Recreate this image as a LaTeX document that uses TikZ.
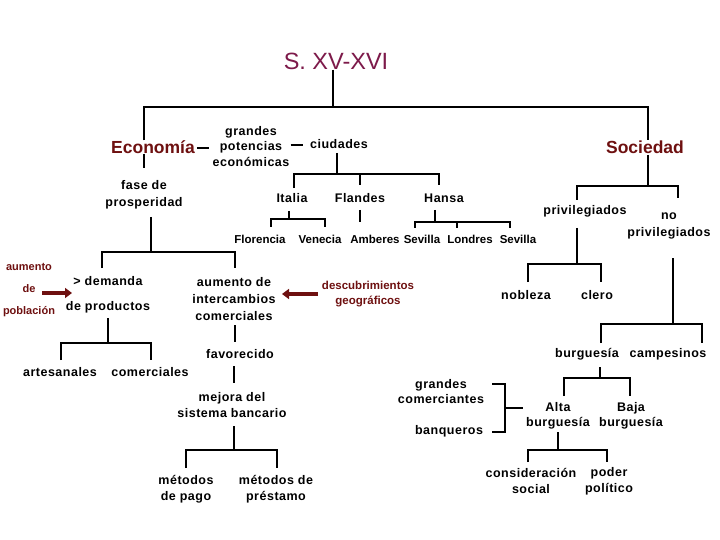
\documentclass[tikz,border=0pt]{standalone}
\usepackage{fontspec}
\setmainfont{Liberation Sans}
\newfontfamily\spfont{Liberation Sans}[LetterSpace=4]
\usetikzlibrary{arrows.meta}
\definecolor{titlecol}{RGB}{125,26,74}
\definecolor{darkred}{RGB}{110,16,16}
\begin{document}
\begin{tikzpicture}[x=1pt,y=-1pt,
  txt/.style={font=\spfont\fontsize{12.5}{16}\selectfont\bfseries, inner sep=0pt, align=center},
  city/.style={font=\fontsize{11.5}{14}\selectfont\bfseries, inner sep=0pt},
  head/.style={font=\fontsize{17.5}{20}\selectfont\bfseries, text=darkred, inner sep=0pt},
  rtxt/.style={font=\fontsize{11}{14}\selectfont\bfseries, text=darkred, inner sep=0pt, align=center},
  ln/.style={line width=1.05pt, black},
  bigarrow/.style={line width=3.5pt, darkred, -{Triangle[length=7pt,width=10pt]}}]
\useasboundingbox[fill=white] (0,0) rectangle (720,540);

% texts
\node[font=\fontsize{23.5}{26}\selectfont, text=titlecol, inner sep=0pt] (title) at (336,61) {S. XV-XVI};
\node[head] (eco) at (153,147) {Economía};
\node[head] (soc) at (645,147) {Sociedad};
\node[txt, font=\spfont\fontsize{12.5}{15.5}\selectfont\bfseries] (gpe) at (251,146.5) {grandes\\potencias\\económicas};
\node[txt] (ciu) at (339,144) {ciudades};
\node[txt, font=\spfont\fontsize{12.5}{17}\selectfont\bfseries] (fase) at (144,194.5) {fase de\\prosperidad};
\node[txt] (ita) at (292,198) {Italia};
\node[txt] (fla) at (360,198) {Flandes};
\node[txt] (han) at (444,198) {Hansa};
\node[city] (flo) at (260,239) {Florencia};
\node[city] (ven) at (320,239) {Venecia};
\node[city] (amb) at (375,239) {Amberes};
\node[city] (sev1) at (422,239) {Sevilla};
\node[city] (lon) at (470,239) {Londres};
\node[city] (sev2) at (518,239) {Sevilla};
\node[txt] (priv) at (585,211) {privilegiados};
\node[txt, font=\spfont\fontsize{12.5}{17}\selectfont\bfseries] (nopriv) at (669,225.5) {no\\privilegiados};
\node[txt, font=\spfont\fontsize{12.5}{25}\selectfont\bfseries] (dem) at (108,294.5) {> demanda\\de productos};
\node[txt, font=\spfont\fontsize{12.5}{17}\selectfont\bfseries] (aum) at (234,299) {aumento de\\intercambios\\comerciales};
\node[rtxt, font=\fontsize{11}{22}\selectfont\bfseries] (pob) at (29,290) {aumento\\de\\población};
\node[rtxt, font=\fontsize{11.5}{15}\selectfont\bfseries] (desc) at (368,294.5) {descubrimientos\\geográficos};
\node[txt] (nob) at (526,295) {nobleza};
\node[txt] (cle) at (597,295) {clero};
\node[txt] (bur) at (587,354) {burguesía};
\node[txt] (cam) at (668,354) {campesinos};
\node[txt] (art) at (60,372) {artesanales};
\node[txt] (com) at (150,372) {comerciales};
\node[txt] (fav) at (240,354) {favorecido};
\node[txt] (mej) at (232,405) {mejora del\\sistema bancario};
\node[txt] (mpag) at (186,489) {métodos\\de pago};
\node[txt] (mpre) at (276,489) {métodos de\\préstamo};
\node[txt, font=\spfont\fontsize{12.5}{15}\selectfont\bfseries] (gc) at (441,391.5) {grandes\\comerciantes};
\node[txt] (ban) at (449,431) {banqueros};
\node[txt, font=\spfont\fontsize{12.5}{15}\selectfont\bfseries] (alta) at (558,415.5) {Alta\\burguesía};
\node[txt, font=\spfont\fontsize{12.5}{15}\selectfont\bfseries] (baja) at (631,415.5) {Baja\\burguesía};
\node[txt] (cons) at (531,481) {consideración\\social};
\node[txt] (pod) at (609,481) {poder\\político};

% connectors
\draw[ln] (title.south -| 333,0) -- (333,107);
\draw[ln] (eco.north -| 144,0) -- (144,107) -- (648,107) -- (soc.north -| 648,0);
\draw[ln] (eco.south -| 144,0) -- (144,168);
\draw[ln] (eco.east) ++(2,1) -- ++(12,0);
\draw[ln] (gpe.east) ++(1,-1.5) -- ++(12,0);
\draw[ln] (ciu.south -| 337,0) ++(0,4) -- (337,174);
\draw[ln] (ita.north -| 294,0) ++(0,-5) -- (294,174) -- (439,174) -- ++(0,11);
\draw[ln] (360,174) -- (360,185);
\draw[ln] (289,211) -- (289,219);
\draw[ln] (271,227) -- (271,219) -- (325,219) -- (325,227);
\draw[ln] (360,210) -- (360,222);
\draw[ln] (435,210) -- (435,222);
\draw[ln] (415,228) -- (415,222) -- (510,222) -- (510,228);
\draw[ln] (457,222) -- (457,228);
\draw[ln] (648,155) -- (648,186);
\draw[ln] (577,200) -- (577,186) -- (678,186) -- (678,198);
\draw[ln] (577,228) -- (577,264);
\draw[ln] (528,282) -- (528,264) -- (601,264) -- (601,282);
\draw[ln] (673,258) -- (673,324);
\draw[ln] (601,343) -- (601,324) -- (702,324) -- (702,343);
\draw[ln] (600,367) -- (600,378);
\draw[ln] (564,396) -- (564,378) -- (630,378) -- (630,396);
\draw[ln] (492,384) -- (505,384) -- (505,432) -- (492,432);
\draw[ln] (505,408) -- (523,408);
\draw[ln] (558,432) -- (558,450);
\draw[ln] (528,462) -- (528,450) -- (607,450) -- (607,462);
\draw[ln] (151,217) -- (151,252);
\draw[ln] (102,268) -- (102,252) -- (235,252) -- (235,268);
\draw[ln] (108,318) -- (108,343);
\draw[ln] (61,360) -- (61,343) -- (151,343) -- (151,360);
\draw[ln] (235,325) -- (235,342);
\draw[ln] (234,366) -- (234,383);
\draw[ln] (234,426) -- (234,450);
\draw[ln] (186,468) -- (186,450) -- (277,450) -- (277,468);
\draw[bigarrow] (42,293) -- (72,293);
\draw[bigarrow] (318,294) -- (282,294);
\end{tikzpicture}
\end{document}
